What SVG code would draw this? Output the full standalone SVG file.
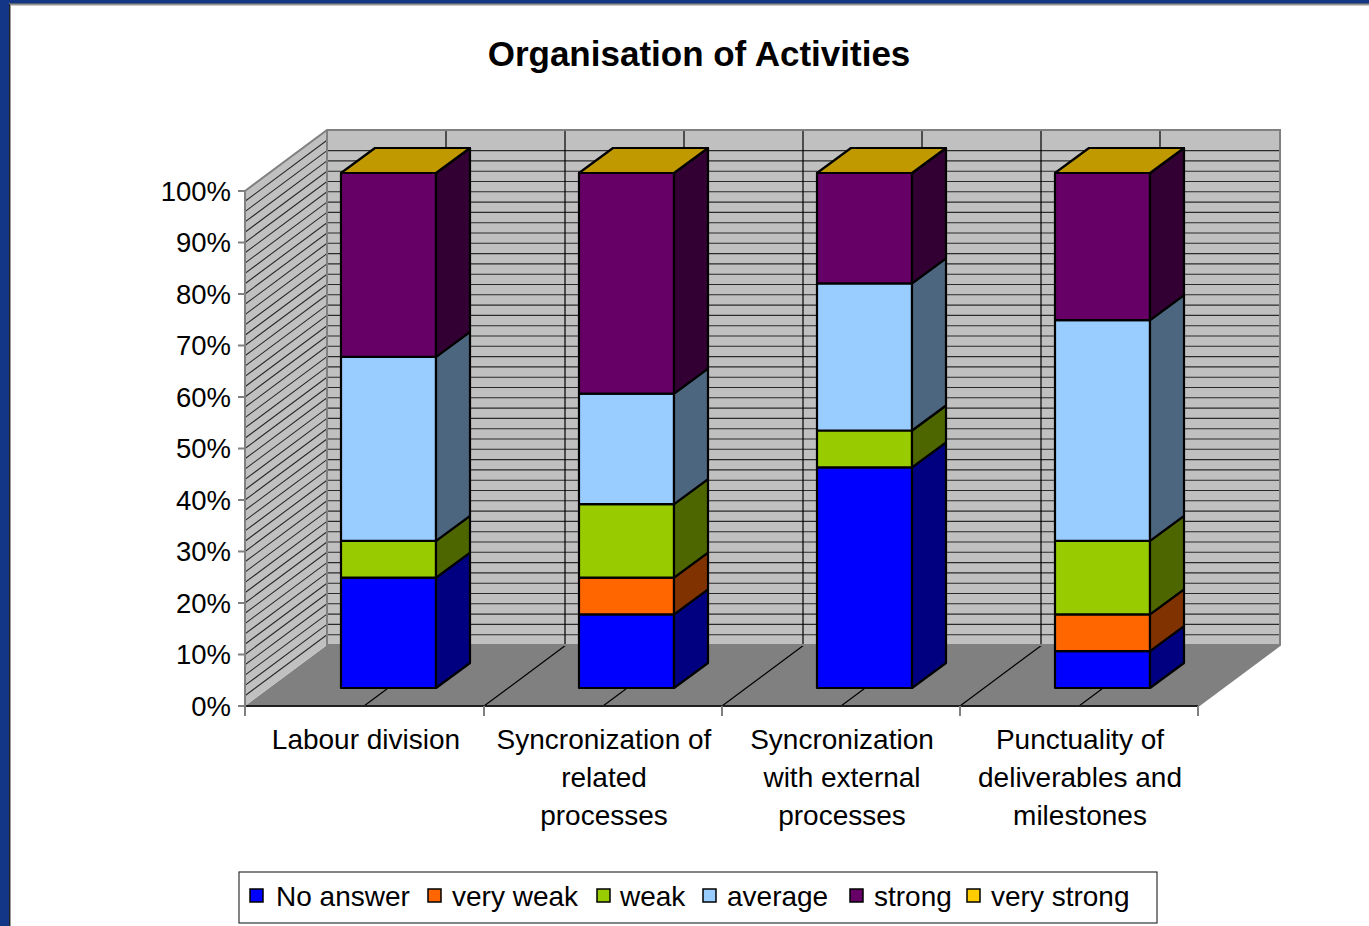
<svg xmlns="http://www.w3.org/2000/svg" width="1369" height="926" viewBox="0 0 1369 926">
<style>
text{font-family:"Liberation Sans",Arial,sans-serif;fill:#000}
.ttl{font-size:35px;font-weight:bold;text-anchor:middle}
.yl{font-size:27.5px;text-anchor:end}
.cl{font-size:28px;text-anchor:middle}
.lg{font-size:28px}
.seg{stroke:#000;stroke-width:2.2;stroke-linejoin:round}
.grid{stroke:#2a2a2a;stroke-width:1.1;fill:none}
.tick{stroke:#808080;stroke-width:2}
.b{fill:#0000FF}.bs{fill:#000080}
.o{fill:#FF6600}.os{fill:#803300}
.g{fill:#99CC00}.gs{fill:#4D6600}
.l{fill:#99CCFF}.ls{fill:#4D6680}
.p{fill:#660066}.ps{fill:#330033}
.t{fill:#C09900}
.sw{stroke:#000;stroke-width:1.5}
</style>
<rect width="1369" height="926" fill="#fff"/>
<rect x="0" y="0" width="1369" height="3.5" fill="#133686"/>
<rect x="0" y="0" width="9" height="926" fill="#133686"/>
<path d="M9.5 926V4H1369" fill="none" stroke="#222" stroke-width="1"/>
<path d="M10.5 926V5H1369" fill="none" stroke="#999" stroke-width="1"/>

<text class="ttl" x="699" y="66">Organisation of Activities</text>

<g id="plot-area">
<polygon points="245,706 327,645 1280,645 1198,706" fill="#808080"/>
<rect x="327" y="130" width="953" height="515" fill="#C0C0C0"/>
<polygon points="245,191 327,130 327,645 245,706" fill="#C0C0C0"/>
<path class="grid" d="M327 634.7h953m-953-10.3h953m-953-10.3h953m-953-10.3h953m-953-10.3h953m-953-10.3h953m-953-10.3h953m-953-10.3h953m-953-10.3h953m-953-10.3h953m-953-10.3h953m-953-10.3h953m-953-10.3h953m-953-10.3h953m-953-10.3h953m-953-10.3h953m-953-10.3h953m-953-10.3h953m-953-10.3h953m-953-10.3h953m-953-10.3h953m-953-10.3h953m-953-10.3h953m-953-10.3h953m-953-10.3h953m-953-10.3h953m-953-10.3h953m-953-10.3h953m-953-10.3h953m-953-10.3h953m-953-10.3h953m-953-10.3h953m-953-10.3h953m-953-10.3h953m-953-10.3h953m-953-10.3h953m-953-10.3h953m-953-10.3h953m-953-10.3h953m-953-10.3h953m-953-10.3h953m-953-10.3h953m-953-10.3h953m-953-10.3h953m-953-10.3h953m-953-10.3h953m-953-10.3h953m-953-10.3h953"/>
<path class="grid" d="M245 695.7l82-61m-82 50.7l82-61m-82 50.7l82-61m-82 50.7l82-61m-82 50.7l82-61m-82 50.7l82-61m-82 50.7l82-61m-82 50.7l82-61m-82 50.7l82-61m-82 50.7l82-61m-82 50.7l82-61m-82 50.7l82-61m-82 50.7l82-61m-82 50.7l82-61m-82 50.7l82-61m-82 50.7l82-61m-82 50.7l82-61m-82 50.7l82-61m-82 50.7l82-61m-82 50.7l82-61m-82 50.7l82-61m-82 50.7l82-61m-82 50.7l82-61m-82 50.7l82-61m-82 50.7l82-61m-82 50.7l82-61m-82 50.7l82-61m-82 50.7l82-61m-82 50.7l82-61m-82 50.7l82-61m-82 50.7l82-61m-82 50.7l82-61m-82 50.7l82-61m-82 50.7l82-61m-82 50.7l82-61m-82 50.7l82-61m-82 50.7l82-61m-82 50.7l82-61m-82 50.7l82-61m-82 50.7l82-61m-82 50.7l82-61m-82 50.7l82-61m-82 50.7l82-61m-82 50.7l82-61m-82 50.7l82-61m-82 50.7l82-61m-82 50.7l82-61m-82 50.7l82-61m-82 50.7l82-61"/>
<path stroke="#000" stroke-width="1.2" fill="none" d="M446 130V645M565 130V645M684 130V645M803 130V645M922 130V645M1041 130V645M1160 130V645M364 706l82-61M484 706l82-61M603 706l82-61M722 706l82-61M841 706l82-61M960 706l82-61M1079 706l82-61"/>
<polygon points="245,191 327,130 1280,130 1280,645 1198,706 245,706" fill="none" stroke="#808080" stroke-width="2"/>
<path d="M327 130V645H1280" fill="none" stroke="#808080" stroke-width="2"/>
<path d="M245 706H1198" stroke="#000" stroke-width="1.5"/>
<path d="M245 190V707" stroke="#808080" stroke-width="2"/>
<path class="tick" d="M238 191H245M238 242.5H245M238 294H245M238 345.5H245M238 397H245M238 448.5H245M238 500H245M238 551.5H245M238 603H245M238 654.5H245M238 706H245M245 706V716M484 706V716M722 706V716M960 706V716M1198 706V716"/>
</g>

<g id="y-axis-labels">
<text class="yl" x="231" y="200.5">100%</text>
<text class="yl" x="231" y="252">90%</text>
<text class="yl" x="231" y="303.5">80%</text>
<text class="yl" x="231" y="355">70%</text>
<text class="yl" x="231" y="406.5">60%</text>
<text class="yl" x="231" y="458">50%</text>
<text class="yl" x="231" y="509.5">40%</text>
<text class="yl" x="231" y="561">30%</text>
<text class="yl" x="231" y="612.5">20%</text>
<text class="yl" x="231" y="664">10%</text>
<text class="yl" x="231" y="715.5">0%</text>
</g>

<g id="bar-labour-division">
<rect class="seg b" x="341" y="577.6" width="95" height="110.4"/>
<polygon class="seg bs" points="436,688 470,663 470,552.6 436,577.6"/>
<rect class="seg g" x="341" y="540.9" width="95" height="36.7"/>
<polygon class="seg gs" points="436,577.6 470,552.6 470,515.9 436,540.9"/>
<rect class="seg l" x="341" y="356.9" width="95" height="184"/>
<polygon class="seg ls" points="436,540.9 470,515.9 470,331.9 436,356.9"/>
<rect class="seg p" x="341" y="173" width="95" height="183.9"/>
<polygon class="seg ps" points="436,356.9 470,331.9 470,148 436,173"/>
<polygon class="seg t" points="341,173 436,173 470,148 375,148"/>
</g>

<g id="bar-sync-related">
<rect class="seg b" x="579" y="614.4" width="95" height="73.6"/>
<polygon class="seg bs" points="674,688 708,663 708,589.4 674,614.4"/>
<rect class="seg o" x="579" y="577.6" width="95" height="36.8"/>
<polygon class="seg os" points="674,614.4 708,589.4 708,552.6 674,577.6"/>
<rect class="seg g" x="579" y="504.1" width="95" height="73.5"/>
<polygon class="seg gs" points="674,577.6 708,552.6 708,479.1 674,504.1"/>
<rect class="seg l" x="579" y="393.7" width="95" height="110.4"/>
<polygon class="seg ls" points="674,504.1 708,479.1 708,368.7 674,393.7"/>
<rect class="seg p" x="579" y="173" width="95" height="220.7"/>
<polygon class="seg ps" points="674,393.7 708,368.7 708,148 674,173"/>
<polygon class="seg t" points="579,173 674,173 708,148 613,148"/>
</g>

<g id="bar-sync-external">
<rect class="seg b" x="817" y="467.3" width="95" height="220.7"/>
<polygon class="seg bs" points="912,688 946,663 946,442.3 912,467.3"/>
<rect class="seg g" x="817" y="430.5" width="95" height="36.8"/>
<polygon class="seg gs" points="912,467.3 946,442.3 946,405.5 912,430.5"/>
<rect class="seg l" x="817" y="283.4" width="95" height="147.1"/>
<polygon class="seg ls" points="912,430.5 946,405.5 946,258.4 912,283.4"/>
<rect class="seg p" x="817" y="173" width="95" height="110.4"/>
<polygon class="seg ps" points="912,283.4 946,258.4 946,148 912,173"/>
<polygon class="seg t" points="817,173 912,173 946,148 851,148"/>
</g>

<g id="bar-punctuality">
<rect class="seg b" x="1055" y="651.2" width="95" height="36.8"/>
<polygon class="seg bs" points="1150,688 1184,663 1184,626.2 1150,651.2"/>
<rect class="seg o" x="1055" y="614.4" width="95" height="36.8"/>
<polygon class="seg os" points="1150,651.2 1184,626.2 1184,589.4 1150,614.4"/>
<rect class="seg g" x="1055" y="540.9" width="95" height="73.5"/>
<polygon class="seg gs" points="1150,614.4 1184,589.4 1184,515.9 1150,540.9"/>
<rect class="seg l" x="1055" y="320.1" width="95" height="220.8"/>
<polygon class="seg ls" points="1150,540.9 1184,515.9 1184,295.1 1150,320.1"/>
<rect class="seg p" x="1055" y="173" width="95" height="147.1"/>
<polygon class="seg ps" points="1150,320.1 1184,295.1 1184,148 1150,173"/>
<polygon class="seg t" points="1055,173 1150,173 1184,148 1089,148"/>
</g>

<g id="category-labels">
<text class="cl" x="366" y="749">Labour division</text>
<text class="cl" x="604" y="749">Syncronization of</text>
<text class="cl" x="604" y="787">related</text>
<text class="cl" x="604" y="825">processes</text>
<text class="cl" x="842" y="749">Syncronization</text>
<text class="cl" x="842" y="787">with external</text>
<text class="cl" x="842" y="825">processes</text>
<text class="cl" x="1080" y="749">Punctuality of</text>
<text class="cl" x="1080" y="787">deliverables and</text>
<text class="cl" x="1080" y="825">milestones</text>
</g>

<g id="legend">
<rect x="239" y="872" width="918" height="51" fill="#fff" stroke="#333" stroke-width="1.2"/>
<rect class="sw b" x="250" y="889" width="13" height="13"/>
<text class="lg" x="276" y="906">No answer</text>
<rect class="sw o" x="428" y="889" width="13" height="13"/>
<text class="lg" x="452" y="906">very weak</text>
<rect class="sw g" x="597" y="889" width="13" height="13"/>
<text class="lg" x="620" y="906">weak</text>
<rect class="sw l" x="703" y="889" width="13" height="13"/>
<text class="lg" x="727" y="906">average</text>
<rect class="sw p" x="850" y="889" width="13" height="13"/>
<text class="lg" x="874" y="906">strong</text>
<rect x="967" y="889" width="13" height="13" fill="#FFCC00" class="sw"/>
<text class="lg" x="991" y="906">very strong</text>
</g>
</svg>
